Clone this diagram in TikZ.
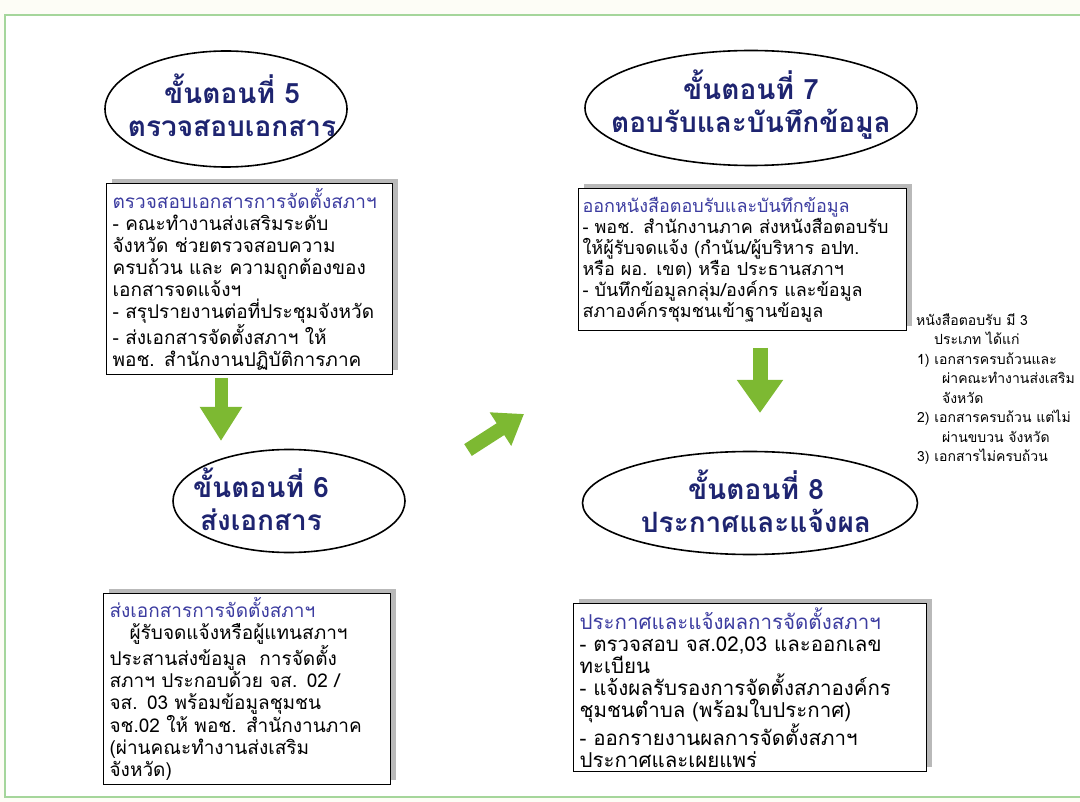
\documentclass[tikz,border=0pt]{standalone}
\usepackage{fontspec}
\setmainfont[Script=Thai]{Loma}
\usetikzlibrary{shapes.geometric,arrows.meta,shadows}
\definecolor{titleblue}{RGB}{30,36,112}
\definecolor{headblue}{RGB}{60,60,160}
\definecolor{arrowgreen}{RGB}{125,185,50}
\definecolor{framegreen}{RGB}{165,214,155}
\definecolor{cream}{RGB}{253,253,246}
\tikzset{
  stepoval/.style={draw, ellipse, line width=1.6pt, inner sep=0pt},
  steptitle/.style={font=\bfseries\fontsize{28}{33}\selectfont, text=titleblue, align=center},
  stepbox/.style={draw, line width=1.2pt, fill=white, anchor=north west, inner xsep=6pt, inner ysep=4pt,
    align=left, font=\fontsize{19}{22}\selectfont,
    drop shadow={shadow xshift=5pt, shadow yshift=5pt, fill=gray!55, opacity=1}},
  greenarrow/.style={draw=arrowgreen, line width=13pt, -{Triangle[length=34pt,width=40pt]}},
}
\newcommand{\boxhead}[1]{\textcolor{headblue}{#1}}
\begin{document}
\begin{tikzpicture}[x=1pt,y=-1pt]
    % Background and frame
    \fill[cream] (0,0) rectangle (1080,802);
    \useasboundingbox (0,0) rectangle (1080,802);
    \draw[framegreen, line width=2pt, fill=white] (5,15) rectangle (1095,797);

    % Step 5
    \node[stepoval, minimum width=242pt, minimum height=116pt] (oval5) at (226,109) {};
    \node[steptitle] (title5) at ([xshift=6pt,yshift=4pt]oval5.center) {ขั้นตอนที่ 5\\ตรวจสอบเอกสาร};
    \node[stepbox, text width=274pt, minimum height=191pt] (box5) at (106,183) {%
        \boxhead{ตรวจสอบเอกสารการจัดตั้งสภาฯ}\\
        - คณะทำงานส่งเสริมระดับ\\
        จังหวัด ช่วยตรวจสอบความ\\
        ครบถ้วน และ ความถูกต้องของ\\
        เอกสารจดแจ้งฯ\\
        - สรุปรายงานต่อที่ประชุมจังหวัด\\
        - ส่งเอกสารจัดตั้งสภาฯ ให้\\
        พอช. สำนักงานปฏิบัติการภาค};

    % Step 6
    \node[stepoval, minimum width=232pt, minimum height=103pt] (oval6) at (289,501) {};
    \node[steptitle] (title6) at ([xshift=-28pt,yshift=2pt]oval6.center) {ขั้นตอนที่ 6\\ส่งเอกสาร};
    \node[stepbox, text width=275pt, minimum height=187pt] (box6) at (103,593) {%
        \boxhead{ส่งเอกสารการจัดตั้งสภาฯ}\\
        \hspace*{20pt}ผู้รับจดแจ้งหรือผู้แทนสภาฯ\\
        ประสานส่งข้อมูล~~การจัดตั้ง\\
        สภาฯ ประกอบด้วย จส. 02 /\\
        จส. 03 พร้อมข้อมูลชุมชน\\
        จช.02 ให้ พอช. สำนักงานภาค\\
        (ผ่านคณะทำงานส่งเสริม\\
        จังหวัด)};

    % Step 7
    \node[stepoval, minimum width=332pt, minimum height=115pt] (oval7) at (751,108) {};
    \node[steptitle] (title7) at ([yshift=3pt]oval7.center) {ขั้นตอนที่ 7\\ตอบรับและบันทึกข้อมูล};
    \node[stepbox, text width=320pt, inner xsep=4pt, minimum height=142pt, font=\fontsize{18}{21}\selectfont] (box7) at (578,188) {%
        \boxhead{ออกหนังสือตอบรับและบันทึกข้อมูล}\\
        - พอช. สำนักงานภาค ส่งหนังสือตอบรับ\\
        ให้ผู้รับจดแจ้ง (กำนัน/ผู้บริหาร อปท.\\
        หรือ ผอ. เขต) หรือ ประธานสภาฯ\\
        - บันทึกข้อมูลกลุ่ม/องค์กร และข้อมูล\\
        สภาองค์กรชุมชนเข้าฐานข้อมูล};

    % Step 8
    \node[stepoval, minimum width=335pt, minimum height=103pt] (oval8) at (750,503) {};
    \node[steptitle] (title8) at ([xshift=6pt,yshift=2pt]oval8.center) {ขั้นตอนที่ 8\\ประกาศและแจ้งผล};
    \node[stepbox, text width=341pt, minimum height=162pt, font=\fontsize{20.5}{22}\selectfont] (box8) at (573,603) {%
        \boxhead{ประกาศและแจ้งผลการจัดตั้งสภาฯ}\\
        - ตรวจสอบ จส.02,03 และออกเลข\\
        ทะเบียน\\
        - แจ้งผลรับรองการจัดตั้งสภาองค์กร\\
        ชุมชนตำบล (พร้อมใบประกาศ)\\
        - ออกรายงานผลการจัดตั้งสภาฯ\\
        ประกาศและเผยแพร่};

    % Note on the replies
    \node[anchor=north west, align=left, inner sep=0pt, font=\fontsize{14}{19.5}\selectfont] (note7) at (916,313) {%
        หนังสือตอบรับ มี 3\\
        \hspace*{18pt}ประเภท ได้แก่\\
        \hspace*{1pt}1)~เอกสารครบถ้วนและ\\
        \hspace*{26pt}ผ่าคณะทำงานส่งเสริม\\
        \hspace*{26pt}จังหวัด\\
        \hspace*{1pt}2)~เอกสารครบถ้วน แต่ไม่\\
        \hspace*{26pt}ผ่านขบวน จังหวัด\\
        \hspace*{1pt}3)~เอกสารไม่ครบถ้วน};

    % Arrows
    \coordinate (from5) at (221,378);
    \coordinate (to6) at (221,441);
    \coordinate (from6) at (468,450);
    \coordinate (to7) at (524,414);
    \coordinate (from7) at (760,348);
    \coordinate (to8) at (760,413);
    \draw[greenarrow] (from5) -- (to6);
    \draw[greenarrow, line width=14pt, -{Triangle[length=28pt,width=38pt]}] (from6) -- (to7);
    \draw[greenarrow, line width=15pt, -{Triangle[length=33pt,width=44pt]}] (from7) -- (to8);
\end{tikzpicture}
\end{document}
